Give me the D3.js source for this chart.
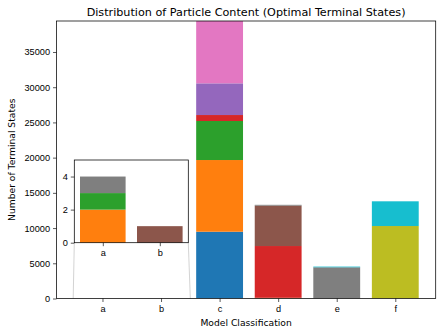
<!DOCTYPE html>
<html>
<head>
<meta charset="utf-8">
<script src="https://cdn.jsdelivr.net/npm/d3@7"></script>
<style>
  body { margin: 0; background: #fff; }
  svg { display: block; font-family: "DejaVu Sans", sans-serif; }
</style>
</head>
<body>
<svg id="chart" width="443" height="334"></svg>
<script>
const categories = ["a", "b", "c", "d", "e", "f"];
// one array per particle type, values per category (a..f)
const series_keys = ["p0", "p1", "p2", "p3", "p4", "p5", "p6", "p7", "p8", "p9"];
const p0 = [0, 0, 9480, 0, 0, 0];
const p1 = [2, 0, 10180, 100, 0, 0];
const p2 = [1, 0, 5540, 0, 0, 0];
const p3 = [0, 0, 850, 7350, 0, 0];
const p4 = [0, 0, 4500, 0, 0, 0];
const p5 = [0, 1, 0, 5730, 0, 0];
const p6 = [0, 0, 12000, 0, 0, 0];
const p7 = [1, 0, 0, 120, 4430, 0];
const p8 = [0, 0, 0, 0, 0, 10290];
const p9 = [0, 0, 0, 0, 100, 3510];
const y_ticks = [0, 5000, 10000, 15000, 20000, 25000, 30000, 35000];
const inset_ticks = [0, 2, 4];
const inset_categories = ["a", "b"];

const colors = d3.schemeCategory10;
const all_series = [p0, p1, p2, p3, p4, p5, p6, p7, p8, p9];
const table = categories.map((c, i) => {
  const row = {cat: c, idx: i};
  series_keys.forEach((k, j) => row[k] = all_series[j][i]);
  return row;
});
const stacked = d3.stack().keys(series_keys)(table);

const svg = d3.select("#chart");
const m = {left: 56.5, right: 435.7, top: 21, bottom: 298.5};
const tick_fs = 9.2;

const x = d3.scaleLinear().domain([-0.785, 5.69]).range([m.left, m.right]);
const y = d3.scaleLinear().domain([0, 39400]).range([m.bottom, m.top]);
const bw = 0.8;

svg.append("defs").append("clipPath").attr("id", "clip")
  .append("rect")
    .attr("x", m.left).attr("y", m.top)
    .attr("width", m.right - m.left).attr("height", m.bottom - m.top);

function style_axis(a) {
  a.selectAll("text").attr("font-size", tick_fs).attr("fill", "#000");
  a.select(".domain").remove();
  a.selectAll("line").attr("stroke", "#000").attr("stroke-width", 0.65);
}

// main bars
const plot = svg.append("g").attr("clip-path", "url(#clip)");
stacked.forEach((s, j) => {
  plot.append("g")
      .attr("fill", colors[j])
    .selectAll("rect")
    .data(s.filter(d => d[1] - d[0] > 0))
    .enter().append("rect")
      .attr("x", d => x(d.data.idx - bw / 2))
      .attr("width", d => x(bw) - x(0))
      .attr("y", d => y(d[1]))
      .attr("height", d => y(d[0]) - y(d[1]));
});

// main axes
const yAxis = svg.append("g")
    .attr("transform", `translate(${m.left},0)`)
    .call(d3.axisLeft(y).tickValues(y_ticks).tickFormat(d3.format("d")).tickSize(3.5).tickPadding(3));
const xAxis = svg.append("g")
    .attr("transform", `translate(0,${m.bottom})`)
    .call(d3.axisBottom(x).tickValues(d3.range(categories.length))
      .tickFormat(i => categories[i]).tickSize(3.5).tickPadding(3));
style_axis(yAxis);
style_axis(xAxis);

// inset connector lines (mark_inset)
const ins = {left: 74.3, right: 188.3, top: 160, bottom: 242.7};
const connectors = [
  [[ins.left, ins.bottom], [x(-0.5), y(0)]],
  [[ins.right, ins.bottom], [x(1.5), y(0)]]
];
svg.selectAll("line.conn")
  .data(connectors)
  .enter().append("line")
    .attr("class", "conn")
    .attr("x1", d => d[0][0]).attr("y1", d => d[0][1])
    .attr("x2", d => d[1][0]).attr("y2", d => d[1][1])
    .attr("stroke", "#c8c8c8")
    .attr("stroke-width", 0.8);

// frame
svg.append("rect")
    .attr("x", m.left).attr("y", m.top)
    .attr("width", m.right - m.left).attr("height", m.bottom - m.top)
    .attr("fill", "none")
    .attr("stroke", "#000")
    .attr("stroke-width", 0.75);

// inset
const xi = d3.scaleLinear().domain([-0.5, 1.5]).range([ins.left, ins.right]);
const yi = d3.scaleLinear().domain([0, 5]).range([ins.bottom, ins.top]);
const inset = svg.append("g");
inset.append("rect")
    .attr("x", ins.left).attr("y", ins.top)
    .attr("width", ins.right - ins.left).attr("height", ins.bottom - ins.top)
    .attr("fill", "#fff");
stacked.forEach((s, j) => {
  inset.append("g")
      .attr("fill", colors[j])
    .selectAll("rect")
    .data(s.filter(d => inset_categories.includes(d.data.cat) && d[1] - d[0] > 0))
    .enter().append("rect")
      .attr("x", d => xi(d.data.idx - bw / 2))
      .attr("width", d => xi(bw) - xi(0))
      .attr("y", d => yi(d[1]))
      .attr("height", d => yi(d[0]) - yi(d[1]));
});
const yiAxis = inset.append("g")
    .attr("transform", `translate(${ins.left},0)`)
    .call(d3.axisLeft(yi).tickValues(inset_ticks).tickFormat(d3.format("d")).tickSize(3.5).tickPadding(3));
const xiAxis = inset.append("g")
    .attr("transform", `translate(0,${ins.bottom})`)
    .call(d3.axisBottom(xi).tickValues([0, 1]).tickFormat(i => inset_categories[i])
      .tickSize(3.5).tickPadding(3));
style_axis(yiAxis);
style_axis(xiAxis);
inset.append("rect")
    .attr("x", ins.left).attr("y", ins.top)
    .attr("width", ins.right - ins.left).attr("height", ins.bottom - ins.top)
    .attr("fill", "none")
    .attr("stroke", "#000")
    .attr("stroke-width", 0.75);

// labels
svg.append("text")
    .attr("x", (m.left + m.right) / 2).attr("y", 16)
    .attr("text-anchor", "middle")
    .attr("font-size", 11.2)
    .text("Distribution of Particle Content (Optimal Terminal States)");
svg.append("text")
    .attr("x", (m.left + m.right) / 2).attr("y", 325.5)
    .attr("text-anchor", "middle")
    .attr("font-size", tick_fs)
    .text("Model Classification");
svg.append("text")
    .attr("transform", `translate(15,${(m.top + m.bottom) / 2}) rotate(-90)`)
    .attr("text-anchor", "middle")
    .attr("font-size", tick_fs)
    .text("Number of Terminal States");
</script>
</body>
</html>
